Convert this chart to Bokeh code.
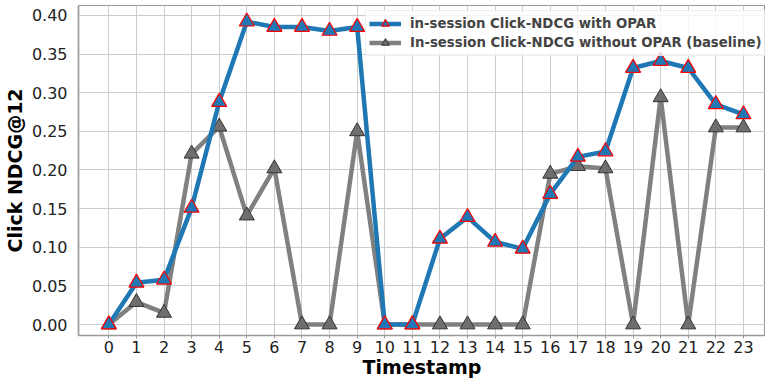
from bokeh.plotting import figure
from bokeh.models import ColumnDataSource, Range1d, FixedTicker, Legend, LegendItem, CustomJSTickFormatter
from bokeh.embed import file_html
from bokeh.resources import INLINE

timestamps = list(range(24))
with_opar = [0.0, 0.054, 0.058, 0.151, 0.288, 0.392, 0.385, 0.385, 0.380, 0.385,
             0.0, 0.0, 0.111, 0.139, 0.107, 0.098, 0.169, 0.217, 0.224, 0.332,
             0.341, 0.332, 0.285, 0.272]
baseline = [0.0, 0.029, 0.015, 0.221, 0.256, 0.141, 0.202, 0.0, 0.0, 0.250,
            0.0, 0.0, 0.0, 0.0, 0.0, 0.0, 0.195, 0.205, 0.202, 0.0,
            0.294, 0.0, 0.255, 0.255]
y_ticks = [0.0, 0.05, 0.10, 0.15, 0.20, 0.25, 0.30, 0.35, 0.40]
label_opar = "in-session Click-NDCG with OPAR"
label_base = "In-session Click-NDCG without OPAR (baseline)"

FONT = "DejaVu Sans"

p = figure(width=765, height=380, output_backend="svg", toolbar_location=None,
           x_range=Range1d(-1.1, 23.8), y_range=Range1d(-0.0142, 0.4129),
           min_border_top=5, min_border_right=0, min_border_left=0, min_border_bottom=0)

src = ColumnDataSource(dict(x=timestamps, a=with_opar, b=baseline))

lb = p.line("x", "b", source=src, line_color="#808080", line_width=4.5)
sb = p.scatter("x", "b", source=src, marker="triangle", size=15,
               fill_color="#6e6e6e", line_color="#333333", line_width=1)
la = p.line("x", "a", source=src, line_color="#1f77b4", line_width=4.5)
sa = p.scatter("x", "a", source=src, marker="triangle", size=15,
               fill_color="#1f77b4", line_color="#ff0000", line_width=1.2)

legend = Legend(items=[LegendItem(label=label_opar, renderers=[la, sa]),
                       LegendItem(label=label_base, renderers=[lb, sb])],
                location=(287, 279))
legend.label_text_font = FONT
legend.label_text_font_style = "bold"
legend.label_text_font_size = "13.3px"
legend.background_fill_alpha = 0.8
legend.border_line_color = "#dddddd"
legend.glyph_width = 32
legend.label_height = 19
legend.glyph_height = 19
legend.label_standoff = 9
legend.spacing = 0
legend.padding = 3
legend.margin = 0
p.add_layout(legend)

p.xaxis.ticker = FixedTicker(ticks=timestamps)
p.yaxis.ticker = FixedTicker(ticks=y_ticks)
p.yaxis.formatter = CustomJSTickFormatter(code="return tick.toFixed(2);")

for ax in (p.xaxis, p.yaxis):
    ax.major_label_text_font = FONT
    ax.major_label_text_font_size = "16px"
    ax.major_label_text_color = "#222222"
    ax.axis_label_text_font = FONT
    ax.axis_label_text_font_style = "bold"
    ax.axis_label_text_font_size = "19px"
    ax.axis_label_text_color = "black"
    ax.minor_tick_line_color = None
    ax.axis_line_color = "#999999"
    ax.axis_line_width = 1.5

p.yaxis.major_tick_line_color = None
p.xaxis.major_tick_line_color = "#999999"
p.xaxis.major_tick_out = 3
p.xaxis.major_tick_in = 0
p.xaxis.major_label_standoff = 2
p.yaxis.major_label_standoff = 5

p.xaxis.axis_label = "Timestamp"
p.yaxis.axis_label = "Click NDCG@12"
p.xaxis.axis_label_standoff = 0
p.yaxis.axis_label_standoff = 3

p.xgrid.grid_line_color = "#cccccc"
p.ygrid.grid_line_color = "#cccccc"
p.xgrid.grid_line_width = 1
p.ygrid.grid_line_width = 1
p.outline_line_color = "#999999"
p.outline_line_width = 1.2

open("out.html", "w").write(file_html(p, INLINE))
